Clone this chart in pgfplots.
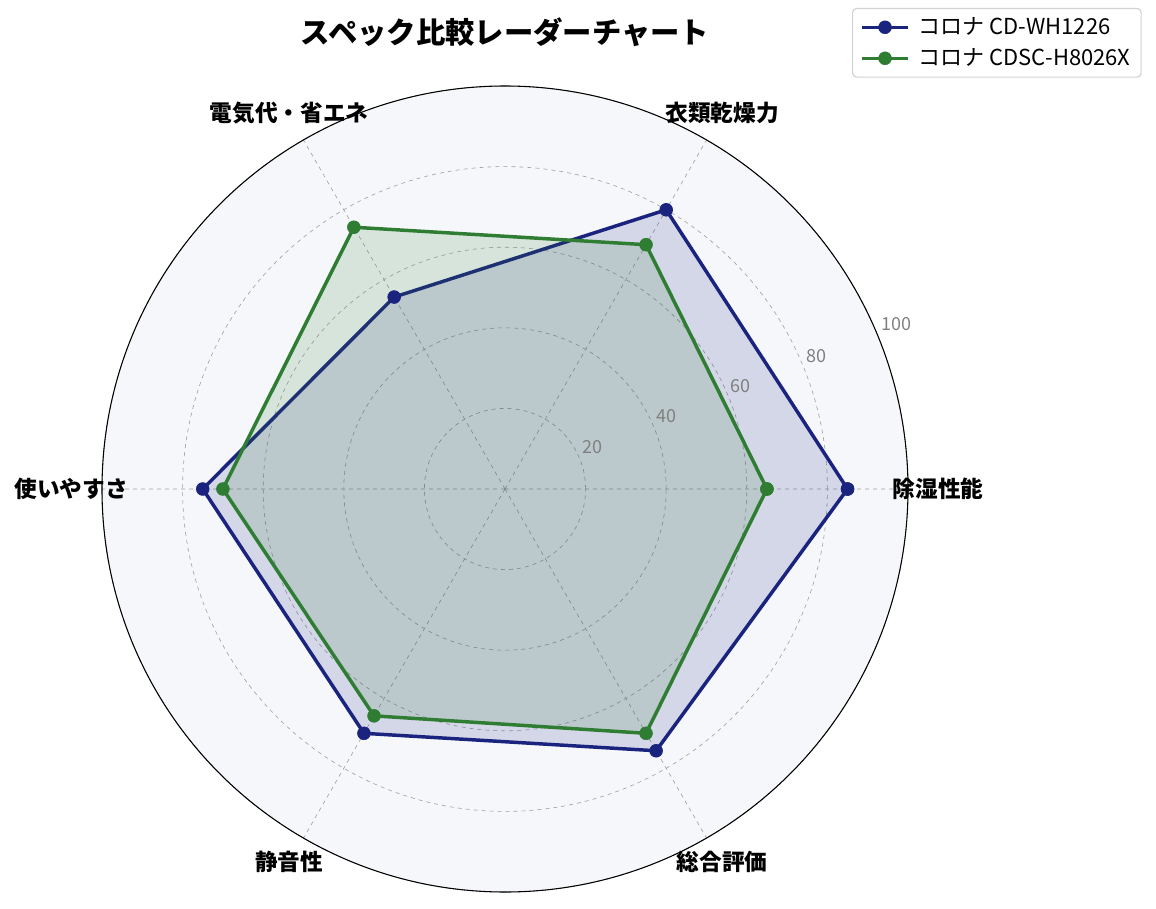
\documentclass[border=0pt]{standalone}
\usepackage{fontspec}
\setmainfont{Noto Sans CJK JP}
\usepackage{pgfplots}
\pgfplotsset{compat=1.18}
\usepgfplotslibrary{polar}
\definecolor{cblue}{HTML}{1A237E}
\definecolor{cgreen}{HTML}{2E7D32}
\definecolor{bgc}{HTML}{F5F7FA}

\begin{document}
\begin{tikzpicture}[x=0.75pt,y=0.75pt]
\useasboundingbox (0,0) rectangle (1156,908);
\begin{polaraxis}[
    at={(378.75pt,314.25pt)}, anchor=origin,
    scale only axis, width=604.5pt, height=604.5pt,
    xmin=0, xmax=360, ymin=0, ymax=100,
    xtick={0,60,...,300}, xticklabels={},
    ytick={20,40,60,80,100}, yticklabels={},
    major tick length=0pt,
    grid=major,
    major grid style={gray!75, dashed, line width=0.45pt},
    separate axis lines,
    x axis line style={black, line width=0.8pt},
    y axis line style={draw=none},
    axis background/.style={fill=bgc},
    clip=false,
    legend cell align=left,
    legend style={at={(1.290,1.097)}, anchor=north east,
        draw=gray!35, rounded corners=3pt, line width=0.9pt,
        font=\fontsize{16.5}{19}\selectfont, row sep=5pt, column sep=5pt,
        inner xsep=6pt, inner ysep=5pt},
    legend image code/.code={
        \draw[#1] (0pt,0pt) -- (34pt,0pt);
        \draw[#1, mark repeat=2, mark phase=2] plot coordinates {(0pt,0pt) (17pt,0pt) (34pt,0pt)};
    },
]
\addplot[draw=cblue, line width=2.6pt, fill=cblue, fill opacity=0.15,
    mark=*, mark size=4.8pt, mark options={fill=cblue, fill opacity=1, draw=cblue, line width=0.5pt}]
    coordinates {(0,85) (60,80) (120,55) (180,75) (240,70) (300,75) (360,85)};
\addlegendentry{コロナ CD-WH1226}
\addplot[draw=cgreen, line width=2.6pt, fill=cgreen, fill opacity=0.15,
    mark=*, mark size=4.8pt, mark options={fill=cgreen, fill opacity=1, draw=cgreen, line width=0.5pt}]
    coordinates {(0,65) (60,70) (120,75) (180,70) (240,65) (300,70) (360,65)};
\addlegendentry{コロナ CDSC-H8026X}
\end{polaraxis}
% title
\node[font=\fontsize{22}{26}\selectfont\bfseries] at (505,876) {スペック比較レーダーチャート};
% category labels
\begin{scope}[every node/.style={font=\fontsize{17}{20}\selectfont\bfseries}]
\node at (938,419) {除湿性能};
\node at (722,795) {衣類乾燥力};
\node at (289,795) {電気代・省エネ};
\node at (71,419) {使いやすさ};
\node at (289,46) {静音性};
\node at (722,46) {総合評価};
\end{scope}
% radial tick labels
\begin{scope}[every node/.style={text=gray, font=\fontsize{13.5}{16}\selectfont}]
\node at (592,461) {20};
\node at (666,492) {40};
\node at (740,522) {60};
\node at (816,552) {80};
\node at (896,584) {100};
\end{scope}
\end{tikzpicture}
\end{document}
